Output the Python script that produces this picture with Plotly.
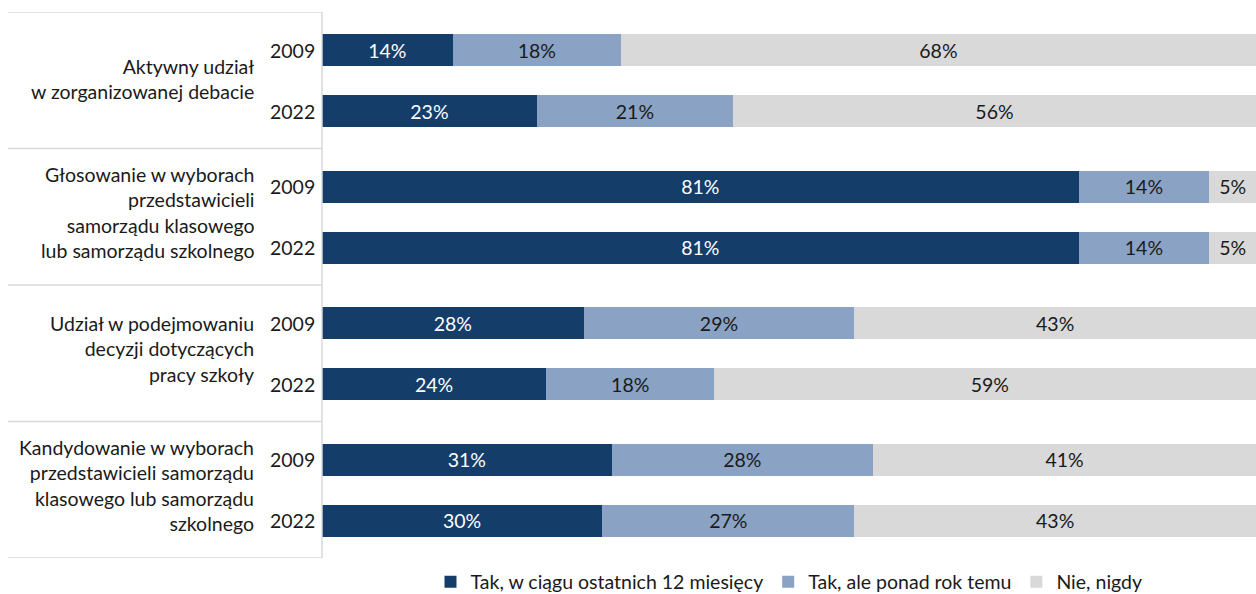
import plotly.graph_objects as go

groups = [
    "Aktywny udział<br>w zorganizowanej debacie",
    "Głosowanie w wyborach<br>przedstawicieli<br>samorządu klasowego<br>lub samorządu szkolnego",
    "Udział w podejmowaniu<br>decyzji dotyczących<br>pracy szkoły",
    "Kandydowanie w wyborach<br>przedstawicieli samorządu<br>klasowego lub samorządu<br>szkolnego",
]
years = ["2009", "2022"]
series_names = ["Tak, w ciągu ostatnich 12 miesięcy", "Tak, ale ponad rok temu", "Nie, nigdy"]
# values per group, per year
tak_12m = [[14, 23], [81, 81], [28, 24], [31, 30]]
tak_dawniej = [[18, 21], [14, 14], [29, 18], [28, 27]]
nie_nigdy = [[68, 56], [5, 5], [43, 59], [41, 43]]

colors = ["#153d69", "#8aa2c3", "#d9d9d9"]
text_colors = ["white", "#1a1a1a", "#1a1a1a"]

FONT = "Lato"
FS = 19.5
W, H = 1256, 594
ML, MR, MT, MB = 322, 0, 12, 36
TOP = 12
GROUP_H = 136.5
FIRST_OFF = 38
BAR_GAP = 61

def ypos(g, k):
    return TOP + GROUP_H * g + FIRST_OFF + BAR_GAP * k

ys, labels_year = [], []
for g in range(len(groups)):
    for k in range(len(years)):
        ys.append(ypos(g, k))
        labels_year.append(years[k])

fig = go.Figure()
for si, (name, data) in enumerate(zip(series_names, [tak_12m, tak_dawniej, nie_nigdy])):
    vals = [data[g][k] for g in range(len(groups)) for k in range(len(years))]
    fig.add_trace(go.Bar(
        x=vals, y=ys, orientation="h", name=name,
        width=32,
        marker=dict(color=colors[si], line=dict(width=0)),
        text=[f"{v}%" for v in vals], textposition="inside",
        insidetextanchor="middle", textangle=0,
        textfont=dict(color=text_colors[si], size=FS, family=FONT),
        constraintext="none",
        hoverinfo="skip",
    ))

plot_w = W - ML - MR
def px_to_paper_x(px):
    return (px - ML) / plot_w

shapes = []
line_col = "#d9d9d9"
for g in range(len(groups) + 1):
    yb = TOP + GROUP_H * g
    shapes.append(dict(type="line", xref="paper", yref="y",
                       x0=px_to_paper_x(8), x1=0, y0=yb, y1=yb,
                       line=dict(color=line_col, width=1.5)))
shapes.append(dict(type="line", xref="paper", yref="y", x0=0, x1=0,
                   y0=TOP, y1=TOP + GROUP_H * len(groups),
                   line=dict(color=line_col, width=1.5)))

annotations = []
for y, yr in zip(ys, labels_year):
    annotations.append(dict(xref="paper", yref="y", x=px_to_paper_x(317), y=y,
                            text=yr, showarrow=False, xanchor="right", yanchor="middle",
                            font=dict(size=FS, family=FONT, color="#1a1a1a")))
for g, name in enumerate(groups):
    yc = TOP + GROUP_H * g + GROUP_H / 2
    annotations.append(dict(xref="paper", yref="y", x=px_to_paper_x(256), y=yc,
                            text=name, showarrow=False, xanchor="right", yanchor="middle",
                            align="right", yshift=4 if g > 0 else 1,
                            font=dict(size=FS, family=FONT, color="#1a1a1a")))

plot_h = H - MT - MB
fig.update_layout(
    width=W, height=H,
    margin=dict(l=ML, r=MR, t=MT, b=MB, autoexpand=False),
    barmode="stack",
    plot_bgcolor="white", paper_bgcolor="white",
    font=dict(family=FONT, size=FS, color="#1a1a1a"),
    xaxis=dict(range=[0, 100], showgrid=False, zeroline=False, showticklabels=False,
               showline=False, fixedrange=True),
    yaxis=dict(range=[TOP + GROUP_H * len(groups), TOP], showgrid=False, zeroline=False,
               showticklabels=False, showline=False, fixedrange=True),
    shapes=shapes,
    annotations=annotations,
    legend=dict(orientation="h", x=0.5, xanchor="center", y=-(582 - (H - MB)) / plot_h,
                yanchor="middle",
                font=dict(size=FS, family=FONT, color="#1a1a1a"),
                itemwidth=30, traceorder="normal"),
    showlegend=True,
)

fig.write_html("out.html", config={"displayModeBar": False, "staticPlot": True},
               post_script="document.body.style.margin='0';document.body.style.overflow='hidden';")
